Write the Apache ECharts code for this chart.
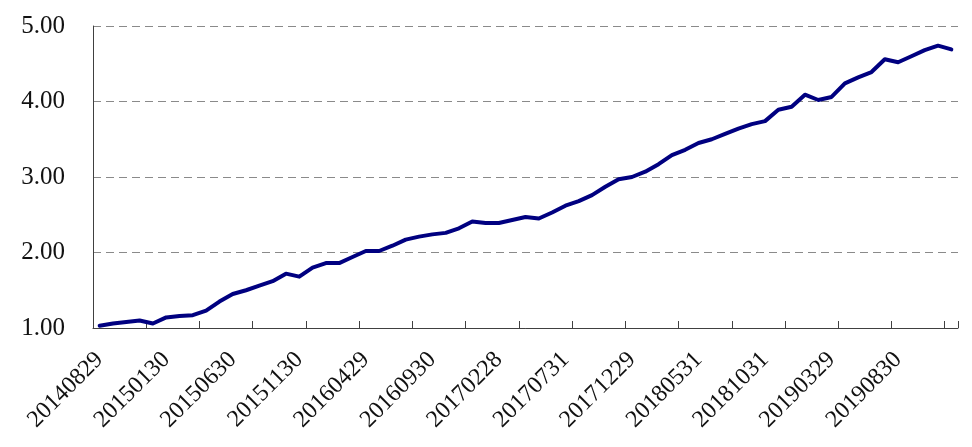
<!DOCTYPE html>
<html>
<head>
<meta charset="utf-8">
<script src="https://cdn.jsdelivr.net/npm/echarts@6/dist/echarts.min.js"></script>
<style>
html,body{margin:0;padding:0;background:#fff;}
#chart{width:972px;height:447px;}
</style>
</head>
<body>
<div id="chart"></div>
<script>
const categories = [
  '20140829','20140930','20141031','20141128','20141231',
  '20150130','20150227','20150331','20150430','20150529','20150630','20150731','20150831','20150930','20151030','20151130','20151231',
  '20160129','20160229','20160331','20160429','20160531','20160630','20160729','20160831','20160930','20161031','20161130','20161230',
  '20170126','20170228','20170331','20170428','20170531','20170630','20170731','20170831','20170929','20171031','20171130','20171229',
  '20180131','20180228','20180330','20180427','20180531','20180629','20180731','20180831','20180928','20181031','20181130','20181228',
  '20190131','20190228','20190329','20190430','20190531','20190628','20190731','20190830','20190930','20191031','20191129','20191231'
];
const values = [
  1.03,1.06,1.08,1.10,1.06,
  1.14,1.16,1.17,1.23,1.35,1.45,1.50,1.56,1.62,1.72,1.68,1.80,
  1.86,1.86,1.94,2.02,2.02,2.09,2.17,2.21,2.24,2.26,2.32,2.41,
  2.39,2.39,2.43,2.47,2.45,2.53,2.62,2.68,2.76,2.87,2.97,3.00,
  3.07,3.17,3.29,3.36,3.45,3.50,3.57,3.64,3.70,3.74,3.89,3.93,
  4.09,4.02,4.06,4.24,4.32,4.39,4.56,4.52,4.60,4.68,4.74,4.69
];
const yMin = 1, yMax = 5, yStep = 1;

const chart = echarts.init(document.getElementById('chart'));
chart.setOption({
  animation: false,
  backgroundColor: '#ffffff',
  grid: { left: 93, right: 14, top: 26, bottom: 119 },
  xAxis: {
    type: 'category',
    data: categories,
    boundaryGap: true,
    axisLine: { show: true, lineStyle: { color: '#404040', width: 1 } },
    axisTick: { show: true, inside: true, length: 7, interval: 3, alignWithLabel: false, lineStyle: { color: '#404040', width: 1 } },
    axisLabel: {
      interval: 4, rotate: 45, margin: 28,
      fontFamily: 'Liberation Serif', fontSize: 24, color: '#111'
    },
    splitLine: { show: false }
  },
  yAxis: {
    type: 'value',
    min: yMin, max: yMax, interval: yStep,
    axisLine: { show: true, lineStyle: { color: '#404040', width: 1 } },
    axisTick: { show: false },
    axisLabel: {
      margin: 28, fontFamily: 'Liberation Serif', fontSize: 25, color: '#111',
      formatter: v => v.toFixed(2)
    },
    splitLine: { show: true, lineStyle: { color: '#8a8a8a', width: 1, type: [8, 5] } }
  },
  series: [{
    type: 'line',
    data: values,
    showSymbol: false,
    smooth: false,
    lineStyle: { color: '#000080', width: 4, cap: 'round', join: 'round' }
  }]
});
</script>
</body>
</html>
